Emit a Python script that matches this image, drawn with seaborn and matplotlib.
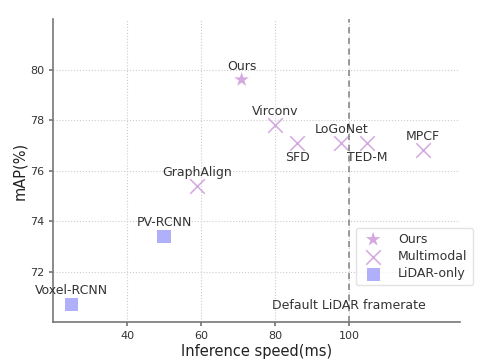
import matplotlib
matplotlib.use("Agg")
import matplotlib.pyplot as plt
import seaborn as sns
import pandas as pd

methods = ["Ours", "Virconv", "SFD", "LoGoNet", "TED-M", "MPCF", "GraphAlign", "PV-RCNN", "Voxel-RCNN"]
speed = [71, 80, 86, 98, 105, 120, 59, 50, 25]
mAP = [79.6, 77.8, 77.1, 77.1, 77.1, 76.8, 75.4, 73.4, 70.7]
group = ["Ours", "Multimodal", "Multimodal", "Multimodal", "Multimodal", "Multimodal", "Multimodal", "LiDAR-only", "LiDAR-only"]
label_pos = ["above", "above", "below", "above", "below", "above", "above", "above", "above"]
xticks = [40, 60, 80, 100]
yticks = [72, 74, 76, 78, 80]

df = pd.DataFrame({"method": methods, "speed": speed, "mAP": mAP, "group": group})

sns.set_theme(style="white")
plt.rcParams['font.family'] = ['DejaVu Sans']

fig, ax = plt.subplots(figsize=(4.96, 3.61), dpi=100)
fig.subplots_adjust(left=0.107, right=0.927, top=0.947, bottom=0.108)

palette = {"Ours": "#d4a9df", "Multimodal": "#d4a9df", "LiDAR-only": "#b0b0fa"}
markers = {"Ours": "*", "Multimodal": "x", "LiDAR-only": "s"}
sizes = {"Ours": 120, "Multimodal": 110, "LiDAR-only": 90}

for g in ["Ours", "Multimodal", "LiDAR-only"]:
    sub = df[df.group == g]
    sns.scatterplot(data=sub, x="speed", y="mAP", ax=ax, color=palette[g], marker=markers[g],
                    s=sizes[g], label=g, linewidth=1.1 if g == "Multimodal" else 0,
                    edgecolor=None if g == "Multimodal" else "none")

for m, x, y, p in zip(methods, speed, mAP, label_pos):
    if p == "above":
        ax.annotate(m, (x, y), xytext=(0, 5), textcoords="offset points", ha="center", va="bottom",
                    fontsize=9, color="#333333")
    else:
        ax.annotate(m, (x, y), xytext=(0, -6), textcoords="offset points", ha="center", va="top",
                    fontsize=9, color="#333333")

ax.axvline(100, color="#808080", linestyle=(0, (4, 3)), linewidth=1.1)
ax.text(100, 70.66, "Default LiDAR framerate", ha="center", va="center", fontsize=9, color="#333333")

ax.set_xlim(20, 130)
ax.set_ylim(70, 82)
ax.set_xticks(xticks)
ax.set_yticks(yticks)
ax.grid(True, linestyle=":", color="#cccccc", linewidth=0.8)
ax.set_axisbelow(True)
for s in ["top", "right"]:
    ax.spines[s].set_visible(False)
for s in ["left", "bottom"]:
    ax.spines[s].set_color("#777777")
    ax.spines[s].set_linewidth(1.2)
ax.tick_params(axis="both", labelsize=8, colors="#333333", length=3, direction="out",
               left=True, bottom=True, color="#777777")
ax.set_xlabel("Inference speed(ms)", fontsize=10.5, color="#222222", labelpad=2)
ax.set_ylabel("mAP(%)", fontsize=10.5, color="#222222", labelpad=2)

leg = ax.legend(loc="lower right", bbox_to_anchor=(1.047, 0.10), fontsize=9, frameon=True,
                markerscale=1.0, handletextpad=1.0, borderpad=0.4, labelspacing=0.35)
leg.get_frame().set_edgecolor("#dddddd")
for t in leg.get_texts():
    t.set_color("#333333")

fig.savefig("out.png", dpi=100)
